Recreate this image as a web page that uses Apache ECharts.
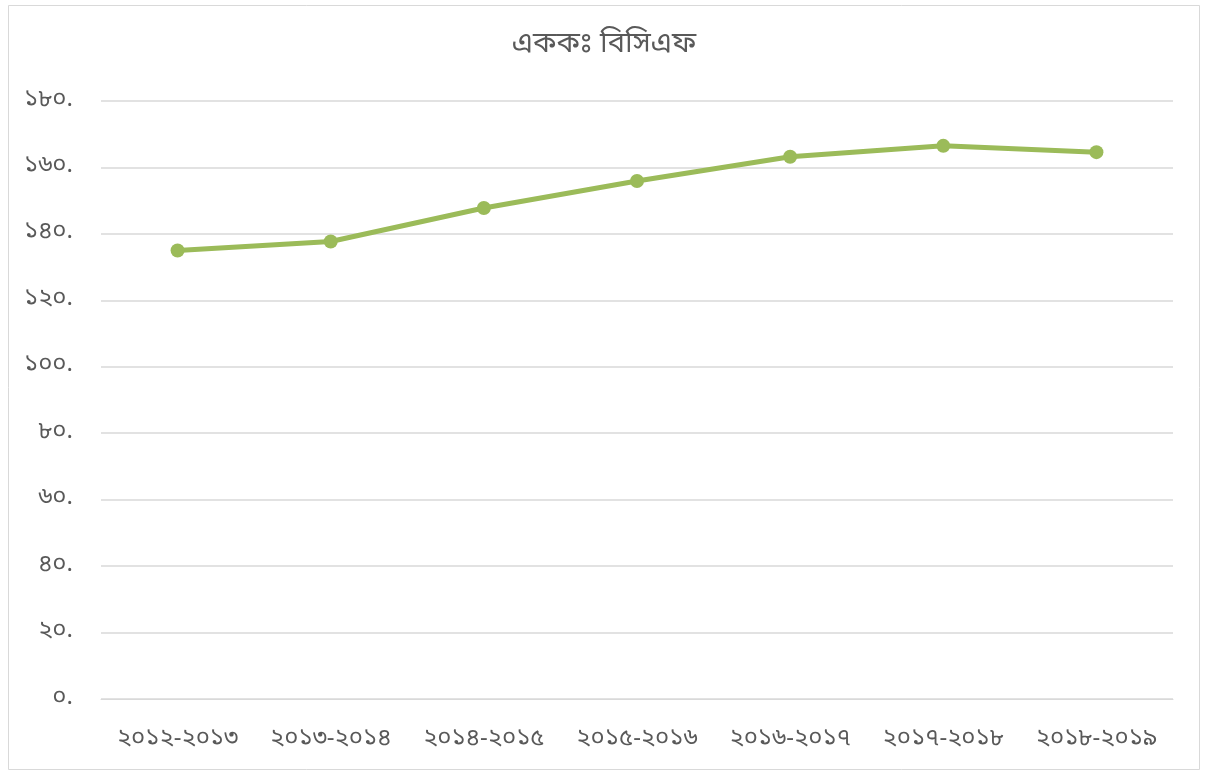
<!DOCTYPE html>
<html>
<head>
<meta charset="utf-8">
<script src="https://cdn.jsdelivr.net/npm/echarts@6/dist/echarts.min.js"></script>
<style>html,body{margin:0;padding:0;background:#fff}#c{width:1208px;height:774px}</style>
</head>
<body>
<div id="c"></div>
<script>
const titleText = 'এককঃ বিসিএফ';
const categories = ['২০১২-২০১৩','২০১৩-২০১৪','২০১৪-২০১৫','২০১৫-২০১৬','২০১৬-২০১৭','২০১৭-২০১৮','২০১৮-২০১৯'];
const values = [135, 137.7, 147.8, 155.9, 163.2, 166.5, 164.6];
const yTickValues = [0, 20, 40, 60, 80, 100, 120, 140, 160, 180];
const yTickLabels = ['০.', '২০.', '৪০.', '৬০.', '৮০.', '১০০.', '১২০.', '১৪০.', '১৬০.', '১৮০.'];

const FONT = '"Noto Sans Bengali","Noto Sans","Lohit Bengali","Noto Sans CJK SC",sans-serif';
const chart = echarts.init(document.getElementById('c'));
chart.setOption({
  backgroundColor: '#fff',
  title: {
    text: titleText, left: 'center', top: 27,
    textStyle: {fontFamily: FONT, fontSize: 29, fontWeight: 'normal', color: '#595959'}
  },
  graphic: [{
    type: 'rect', shape: {x: 8.5, y: 5.5, width: 1191, height: 764},
    style: {fill: 'none', stroke: '#d9d9d9', lineWidth: 1}, silent: true
  }],
  grid: {left: 101, right: 35, top: 101, bottom: 75, containLabel: false},
  xAxis: {
    type: 'category', data: categories, boundaryGap: true,
    axisLine: {show: true, lineStyle: {color: '#d9d9d9', width: 1}},
    axisTick: {show: false},
    axisLabel: {fontFamily: FONT, fontSize: 24, color: '#595959', margin: 29, interval: 0}
  },
  yAxis: {
    type: 'value', min: 0, max: 180, interval: 20,
    axisLine: {show: false}, axisTick: {show: false},
    splitLine: {lineStyle: {color: '#d9d9d9', width: 1.5}},
    axisLabel: {
      fontFamily: FONT, fontSize: 24, color: '#595959', margin: 28,
      formatter: v => yTickLabels[yTickValues.indexOf(v)]
    }
  },
  series: [{
    type: 'line', data: values,
    lineStyle: {color: '#9bbb59', width: 5},
    itemStyle: {color: '#9bbb59'},
    symbol: 'circle', symbolSize: 14,
    animation: false
  }],
  animation: false
});
</script>
</body>
</html>
